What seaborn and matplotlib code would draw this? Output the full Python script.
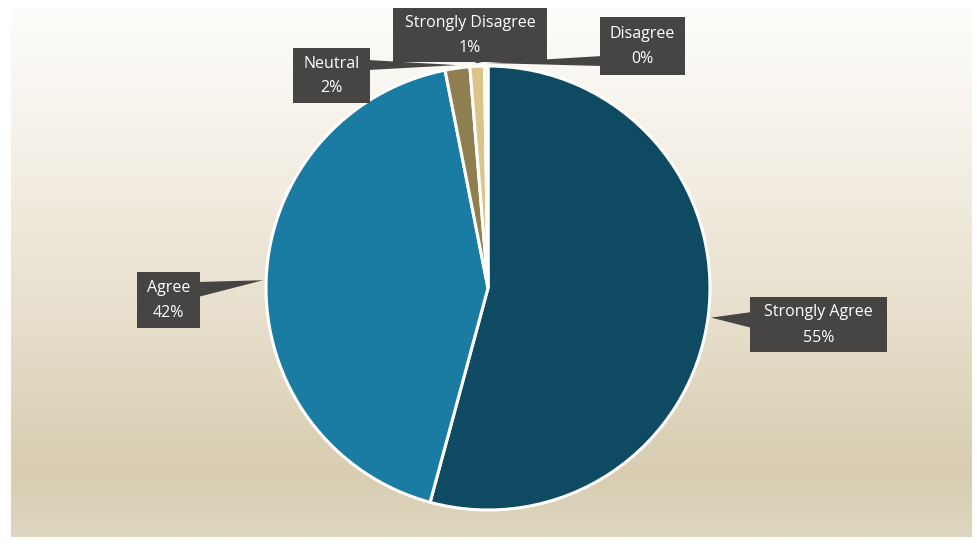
import numpy as np
import matplotlib
matplotlib.use('Agg')
import matplotlib.pyplot as plt
import seaborn as sns
from matplotlib.patches import Rectangle, Polygon
from matplotlib.colors import LinearSegmentedColormap

# ---- data ----
categories = ['Strongly Agree', 'Agree', 'Neutral', 'Strongly Disagree', 'Disagree']
values = [54.2, 42.7, 1.8, 1.05, 0.25]
pct_labels = ['55%', '42%', '2%', '1%', '0%']
colors = ['#0e4a62', '#1a7ca3', '#8f7e4f', '#dcc489', '#efe0b4']

W, H = 977, 550
sns.set_theme(style='white')
plt.rcParams['font.family'] = ['Open Sans', 'DejaVu Sans']

fig = plt.figure(figsize=(W / 100, H / 100), dpi=100)
fig.patch.set_facecolor('white')
ax = fig.add_axes([0, 0, 1, 1])


def Y(y):
    return H - y


# background gradient
bg = LinearSegmentedColormap.from_list('bg', [
    (0.0, '#fefdfb'), (0.25, '#f5f1e9'), (0.55, '#e9e1cf'),
    (0.88, '#d8cdb1'), (1.0, '#ddd6c0')])
grad = np.linspace(0, 1, 256).reshape(-1, 1)
ax.imshow(grad, cmap=bg, aspect='auto', extent=[11, 972, Y(537), Y(8)],
          origin='upper', zorder=0)

cx, cy, r = 488, Y(288), 222
wedges, _ = ax.pie(values, colors=colors, startangle=90, counterclock=False,
                   center=(cx, cy), radius=r,
                   wedgeprops=dict(edgecolor='white', linewidth=2.2))
for w in wedges:
    w.set_zorder(2)

ax.set_xlim(0, W)
ax.set_ylim(0, H)
ax.set_aspect('equal')
ax.axis('off')

# label boxes (pixel coords x0, y0, x1, y1) and pointer base points
boxes = {
    'Strongly Agree': (750, 297, 887, 352),
    'Agree': (137, 272, 200, 328),
    'Neutral': (293, 48, 370, 103),
    'Strongly Disagree': (393, 8, 547, 62),
    'Disagree': (600, 17, 685, 75),
}
bases = {
    'Strongly Agree': [(752, 312), (752, 328)],
    'Agree': [(198, 282), (198, 297)],
    'Neutral': [(368, 60), (368, 70)],
    'Strongly Disagree': [(470, 60), (490, 60)],
    'Disagree': [(602, 56), (602, 66)],
}
box_col = '#474543'
for w, cat, pct in zip(wedges, categories, pct_labels):
    ang = np.deg2rad((w.theta1 + w.theta2) / 2)
    tip = (cx + (r + 3) * np.cos(ang), cy + (r + 3) * np.sin(ang))
    x0, y0, x1, y1 = boxes[cat]
    b = bases[cat]
    ax.add_patch(Polygon([(b[0][0], Y(b[0][1])), tip, (b[1][0], Y(b[1][1]))],
                         closed=True, facecolor=box_col, edgecolor='none', zorder=3))
    ax.add_patch(Rectangle((x0, Y(y1)), x1 - x0, y1 - y0, facecolor=box_col,
                           edgecolor='none', zorder=4))
    xc = (x0 + x1) / 2
    ym = (y0 + y1) / 2
    ax.text(xc, Y(ym - 12), cat, color='white', ha='center', va='center',
            fontsize=11.5, zorder=5)
    ax.text(xc, Y(ym + 13), pct, color='white', ha='center', va='center',
            fontsize=11.5, zorder=5)

fig.savefig('out.png', dpi=100)
